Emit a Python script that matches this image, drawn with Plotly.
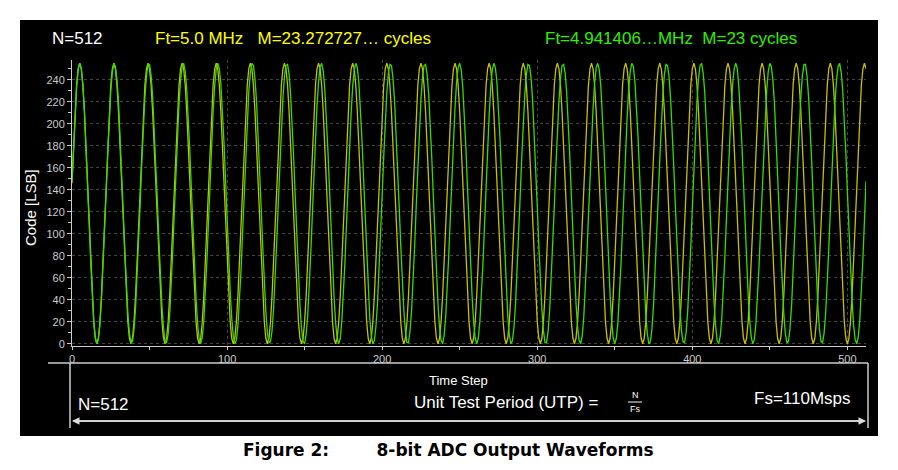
import numpy as np
import plotly.graph_objects as go

N = 512
FS_MHZ = 110.0
FT_YELLOW_MHZ = 5.0
CYCLES_GREEN = 23
PEAK_OFFSET = 5  # sample index of first peak
n = np.arange(N + 1)
m_yellow = FT_YELLOW_MHZ / FS_MHZ * N
code_yellow = np.round(127.5 + 127.5 * np.cos(2 * np.pi * m_yellow * (n - PEAK_OFFSET) / N))
code_green = np.round(127.5 + 127.5 * np.cos(2 * np.pi * CYCLES_GREEN * (n - PEAK_OFFSET) / N))

y_ticks = list(range(0, 241, 20))
x_ticks = [0, 100, 200, 300, 400, 500]

W, H = 898, 470
L, R, T, B = 64, 858, 52, 338
def px(x): return (x - L) / (R - L)
def py(y): return (B - y) / (B - T)

fig = go.Figure()
fig.add_trace(go.Scatter(x=n, y=code_yellow, mode="lines", line=dict(color="#c8c000", width=1.3)))
fig.add_trace(go.Scatter(x=n, y=code_green, mode="lines", line=dict(color="#33dd00", width=1.3)))

shapes = [
    dict(type="rect", xref="paper", yref="paper", x0=px(12), x1=px(870), y0=py(428), y1=py(12),
         fillcolor="black", line=dict(width=0), layer="below"),
    dict(type="line", xref="paper", yref="paper", x0=px(40), x1=px(860), y0=py(355), y1=py(355),
         line=dict(color="#cccccc", width=1.5)),
    dict(type="line", xref="paper", yref="paper", x0=px(62), x1=px(62), y0=py(355), y1=py(420),
         line=dict(color="#cccccc", width=1.5)),
    dict(type="line", xref="paper", yref="paper", x0=px(860), x1=px(860), y0=py(355), y1=py(420),
         line=dict(color="#cccccc", width=1.5)),
    dict(type="line", xref="paper", yref="paper", x0=px(620), x1=px(634), y0=py(394), y1=py(394),
         line=dict(color="white", width=1)),
]
ann = []
def t(x, y, s, size, color="white", xa="center", family="Liberation Sans, Arial", **kw):
    ann.append(dict(x=px(x), y=py(y), xref="paper", yref="paper", text=s, showarrow=False,
                    xanchor=xa, yanchor="middle", font=dict(size=size, color=color, family=family), **kw))
t(42, 30, "N=512", 17, xa="left")
t(145, 30, "Ft=5.0 MHz   M=23.272727… cycles", 17, color="#ffff00", xa="left")
t(535, 30, "Ft=4.941406…MHz  M=23 cycles", 17, color="#33ee00", xa="left")
t(22, 200, "Code [LSB]", 15, textangle=-90)
t(450, 372, "Time Step", 13)
t(498, 394, "Unit Test Period (UTP) =", 17)
t(627, 387, "N", 9)
t(627, 401, "Fs", 9)
t(68, 396, "N=512", 17, xa="left")
t(845, 390, "Fs=110Msps", 17, xa="right")
t(440, 442, "<b>Figure 2:        8-bit ADC Output Waveforms</b>", 17, color="black",
  family="DejaVu Sans", xa="center")
for x0, x1 in [(64, 858), (858, 64)]:
    ann.append(dict(x=px(x1), y=py(413), ax=x0 - x1, ay=0, xref="paper", yref="paper",
                    text="", showarrow=True, arrowhead=2,
                    arrowsize=1, arrowwidth=1.5, arrowcolor="#dddddd"))

fig.update_layout(
    width=W, height=H, margin=dict(l=L, r=W - R, t=T, b=H - B),
    paper_bgcolor="white", plot_bgcolor="black", showlegend=False,
    shapes=shapes, annotations=ann,
    xaxis=dict(range=[0, 512], tickvals=x_ticks, showgrid=True, gridcolor="#444444", griddash="dot",
               tickfont=dict(color="#cccccc", size=11, family="Liberation Sans"), zeroline=False,
               showline=True, linecolor="#cccccc", ticks="outside", ticklen=3, tickcolor="#cccccc",
               minor=dict(dtick=50, ticks="outside", ticklen=3, tickcolor="#cccccc")),
    yaxis=dict(range=[-2, 258], tickvals=y_ticks, showgrid=True, gridcolor="#444444", griddash="dot",
               tickfont=dict(color="#cccccc", size=11, family="Liberation Sans"), zeroline=False,
               showline=True, linecolor="#cccccc", ticks="outside", ticklen=4, tickcolor="#cccccc",
               minor=dict(dtick=10, ticks="outside", ticklen=3, tickcolor="#cccccc")),
)
fig.write_html("out.html")
